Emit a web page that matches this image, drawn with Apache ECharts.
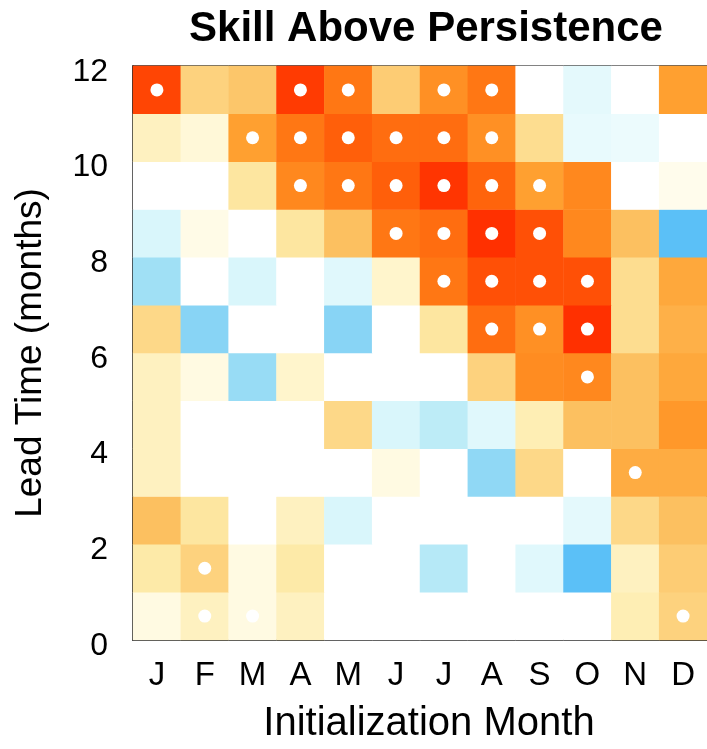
<!DOCTYPE html>
<html>
<head>
<meta charset="utf-8">
<script src="https://cdn.jsdelivr.net/npm/echarts@6/dist/echarts.min.js"></script>
<style>
  html, body { margin: 0; padding: 0; background: #fff; }
  #chart { width: 707px; height: 749px; }
</style>
</head>
<body>
<div id="chart"></div>
<script>
// Initialization months (columns) and lead-time bins (rows, centred on half months)
const months = ['J', 'F', 'M', 'A', 'M', 'J', 'J', 'A', 'S', 'O', 'N', 'D'];
const leadBins = ['0.5', '1.5', '2.5', '3.5', '4.5', '5.5', '6.5', '7.5', '8.5', '9.5', '10.5', '11.5'];
const leadTicks = [0, 2, 4, 6, 8, 10, 12];

// Skill above persistence, one row per lead bin (lead 0.5 first), Jan..Dec
const skill = [
  [0.06, 0.12, 0.06, 0.12, 0.00, 0.00, 0.00, 0.00, 0.00, 0.00, 0.14, 0.26],   // 0.5
  [0.16, 0.26, 0.06, 0.16, 0.00, 0.00, -0.20, 0.00, -0.08, -0.42, 0.12, 0.28], // 1.5
  [0.32, 0.18, 0.00, 0.12, -0.10, 0.00, 0.00, 0.00, 0.00, -0.07, 0.24, 0.32],  // 2.5
  [0.12, 0.00, 0.00, 0.00, 0.00, 0.06, 0.00, -0.30, 0.24, 0.00, 0.37, 0.37],   // 3.5
  [0.12, 0.00, 0.00, 0.00, 0.24, -0.10, -0.18, -0.08, 0.14, 0.32, 0.32, 0.42], // 4.5
  [0.12, 0.06, -0.28, 0.10, 0.00, 0.00, 0.00, 0.26, 0.45, 0.46, 0.32, 0.38],   // 5.5
  [0.24, -0.32, 0.00, 0.00, -0.32, 0.00, 0.18, 0.52, 0.44, 0.64, 0.22, 0.36],  // 6.5
  [-0.26, 0.00, -0.10, 0.00, -0.08, 0.10, 0.50, 0.58, 0.58, 0.58, 0.22, 0.38], // 7.5
  [-0.10, 0.05, 0.00, 0.18, 0.32, 0.50, 0.52, 0.64, 0.58, 0.46, 0.32, -0.42],  // 8.5
  [0.00, 0.00, 0.18, 0.46, 0.50, 0.55, 0.63, 0.54, 0.40, 0.46, 0.00, 0.04],    // 9.5
  [0.12, 0.08, 0.40, 0.50, 0.55, 0.52, 0.52, 0.44, 0.22, -0.06, -0.05, 0.00],  // 10.5
  [0.60, 0.26, 0.30, 0.62, 0.50, 0.28, 0.44, 0.50, 0.00, -0.07, 0.00, 0.40]    // 11.5
];

// Cells where the skill is significant: [month index, lead-bin index]
const significant = [
  [1, 0], [2, 0], [11, 0],
  [1, 1],
  [10, 3],
  [9, 5],
  [7, 6], [8, 6], [9, 6],
  [6, 7], [7, 7], [8, 7], [9, 7],
  [5, 8], [6, 8], [7, 8], [8, 8],
  [3, 9], [4, 9], [5, 9], [6, 9], [7, 9], [8, 9],
  [2, 10], [3, 10], [4, 10], [5, 10], [6, 10], [7, 10],
  [0, 11], [3, 11], [4, 11], [6, 11], [7, 11]
];

// Diverging palette: blue (negative) through white to orange-red (positive)
const palette = [
  '#4ab4f2', '#60c4f8', '#88d4f5', '#a8e4f5', '#c4eef8', '#e0f8fc', '#ffffff',
  '#fff8d8', '#fdeaa8', '#fdd888', '#fcc060', '#ffa030', '#ff8018', '#ff5a08', '#ff3000'
];

const cells = [];
skill.forEach((row, r) => row.forEach((v, c) => cells.push([c, r, v])));

const font = 'Liberation Sans, Arial, sans-serif';
const chart = echarts.init(document.getElementById('chart'));

chart.setOption({
  animation: false,
  backgroundColor: '#ffffff',
  title: {
    text: 'Skill Above Persistence',
    left: 421, top: 3, textAlign: 'center',
    textStyle: { fontFamily: font, fontSize: 42, fontWeight: 'bold', color: '#000' }
  },
  grid: {
    left: 133, top: 66, width: 577, height: 579,
    show: true, borderColor: '#222', borderWidth: 1.5, backgroundColor: 'transparent'
  },
  visualMap: {
    show: false, type: 'continuous', dimension: 2, seriesIndex: 0,
    min: -0.48, max: 0.64, inRange: { color: palette }
  },
  xAxis: [{
    type: 'category', data: months,
    axisLine: { show: true, lineStyle: { color: '#222', width: 1.5 } },
    axisTick: { show: false },
    axisLabel: { fontFamily: font, fontSize: 33, color: '#000', margin: 19 },
    name: 'Initialization Month', nameLocation: 'middle', nameGap: 64,
    nameTextStyle: { fontFamily: font, fontSize: 40, color: '#000', padding: [0, 0, 0, 18] }
  }],
  yAxis: [{
    type: 'category', data: leadBins,
    axisLine: { show: true, lineStyle: { color: '#222', width: 1.5 } },
    axisTick: { show: false }, axisLabel: { show: false }
  }, {
    type: 'value', position: 'left', min: 0, max: 12, interval: 2,
    axisLine: { show: false }, axisTick: { show: false }, splitLine: { show: false },
    axisLabel: {
      fontFamily: font, fontSize: 32, color: '#000', margin: 25,
      verticalAlign: 'top', lineHeight: 12
    },
    name: 'Lead Time (months)', nameLocation: 'middle', nameGap: 84, nameRotate: 90,
    nameTextStyle: { fontFamily: font, fontSize: 37, color: '#000' }
  }],
  series: [{
    type: 'heatmap', data: cells, xAxisIndex: 0, yAxisIndex: 0,
    itemStyle: { borderWidth: 0 }, emphasis: { disabled: true }
  }, {
    type: 'scatter', data: significant, xAxisIndex: 0, yAxisIndex: 0,
    symbol: 'circle', symbolSize: 13,
    itemStyle: { color: '#ffffff', opacity: 1 }, z: 5
  }]
});
</script>
</body>
</html>
